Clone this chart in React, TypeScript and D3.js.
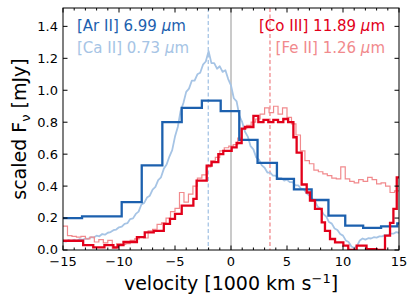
import * as d3 from 'd3';

// axis ranges
const X_DOMAIN: [number, number] = [-15, 15];
const Y_DOMAIN: [number, number] = [0, 1.515];
const X_MAJOR = [-15, -10, -5, 0, 5, 10, 15];
const Y_MAJOR = [0, 0.2, 0.4, 0.6, 0.8, 1.0, 1.2, 1.4];

// [Ar II] 6.99 um — coarse histogram (bin edges + heights)
const arEdges = [-15, -13.3, -11.5, -9.76, -7.97, -6.13, -4.4, -2.6, -0.92, 0.74, 2.37, 4.1, 5.62, 7.2, 8.7, 10.2, 11.8, 13.4, 14.85, 15];
const arValues = [0.2, 0.21, 0.21, 0.3, 0.53, 0.8, 0.89, 0.935, 0.87, 0.69, 0.545, 0.445, 0.38, 0.313, 0.215, 0.152, 0.138, 0.148, 0.167];

// [Co III] 11.89 um
const coEdges = [-15, -13.2, -12.3, -11.3, -10.5, -10.1, -9.6, -8.4, -7.7, -6.9, -6.0, -5.45, -5.0, -4.4, -3.36, -3.07, -2.17, -1.73, -1.13, -0.69,
  0.06, 0.5, 0.95, 1.25, 2.0, 2.44, 2.9, 3.33, 3.78, 4.2, 4.67, 5.1, 5.57, 5.86, 6.31, 6.76, 7.05, 7.5, 8.1, 8.39, 8.84, 9.29, 10.03, 10.47,
  11.22, 12.1, 13.0, 13.75, 14.2, 14.5, 14.8, 15];
const coValues = [0.058, 0.03, 0.016, 0.03, 0.016, 0.03, 0.05, 0.08, 0.11, 0.12, 0.163, 0.195, 0.226, 0.278, 0.32, 0.434, 0.528, 0.55, 0.6, 0.62,
  0.643, 0.67, 0.76, 0.77, 0.84, 0.8, 0.815, 0.8, 0.815, 0.8, 0.82, 0.8, 0.706, 0.61, 0.41, 0.36, 0.31, 0.257, 0.173, 0.12, 0.069, 0.048,
  0.027, 0.0, 0.027, 0.006, 0.0, 0.09, 0.17, 0.257, 0.455];

// [Fe II] 1.26 um — finer bins starting at -15
const FE_START = -15;
const FE_STEP = 0.4;
const feValues = [
  0.15, 0.09, 0.085, 0.08, 0.085, 0.07, 0.08, 0.05, 0.065, 0.045,
  0.06, 0.01, 0.04, 0.035, 0.04, 0.06, 0.07, 0.08, 0.075, 0.12,
  0.13, 0.16, 0.17, 0.2, 0.24, 0.26, 0.36, 0.3, 0.35, 0.4,
  0.45, 0.47, 0.52, 0.56, 0.58, 0.62, 0.64, 0.65, 0.66, 0.7,
  0.76, 0.78, 0.8, 0.82, 0.85, 0.89, 0.86, 0.9, 0.85, 0.89,
  0.83, 0.79, 0.72, 0.62, 0.56, 0.54, 0.5, 0.49, 0.476, 0.466,
  0.45, 0.445, 0.52, 0.445, 0.43, 0.42, 0.44, 0.43, 0.455, 0.44,
  0.414, 0.42, 0.4, 0.36, 0.37,
];

// [Ca II] 0.73 um — sampled spectrum
const CA_START = -15;
const CA_STEP = 0.25;
const caValues = [
  0.058, 0.052, 0.062, 0.056, // -15
  0.064, 0.058, 0.068, 0.064,
  0.072, 0.07, 0.08, 0.078,
  0.09, 0.086, 0.1, 0.096,
  0.108, 0.112, 0.124, 0.128, // -11
  0.142, 0.146, 0.164, 0.168,
  0.194, 0.198, 0.226, 0.24,
  0.285, 0.295, 0.328, 0.34,
  0.378, 0.395, 0.438, 0.455, // -7
  0.508, 0.535, 0.585, 0.625,
  0.71, 0.77, 0.87, 0.92,
  0.99, 1.01, 1.06, 1.06,
  1.1, 1.11, 1.16, 1.18, // -3
  1.245, 1.17, 1.17, 1.135,
  1.15, 1.115, 1.125, 1.07,
  1.03, 0.95, 0.93, 0.84, // 0
  0.8, 0.74, 0.71, 0.65,
  0.63, 0.58, 0.565, 0.53,
  0.515, 0.485, 0.485, 0.465,
  0.465, 0.45, 0.45, 0.435, // 4
  0.44, 0.425, 0.425, 0.405,
  0.405, 0.385, 0.38, 0.355,
  0.34, 0.32, 0.305, 0.27,
  0.26, 0.225, 0.21, 0.175, // 8
  0.165, 0.135, 0.125, 0.1,
  0.09, 0.06, 0.05, 0.022,
  0.012, 0.025, 0.06, 0.072,
  0.065, 0.074, 0.072, 0.08, // 12
  0.078, 0.085, 0.085, 0.093,
  0.092, 0.103, 0.102, 0.112,
  0.108,
];

const CA_CENTER = -2.03;
const FE_CENTER = 3.48;

const C = {
  ar: '#1c60ae',
  ca: '#a6c4e5',
  co: '#e2001a',
  fe: '#f18a8d',
  zero: '#bdbdbd',
};

const FONT = 'DejaVu Sans, sans-serif';

export default function App() {
  const width = 416;
  const height = 303;
  const left = 63, right = 399, top = 8, bottom = 250;

  const x = d3.scaleLinear().domain(X_DOMAIN).range([left, right]);
  const y = d3.scaleLinear().domain(Y_DOMAIN).range([bottom, top]);

  const stepLine = d3.line<[number, number]>()
    .x(d => x(d[0]))
    .y(d => y(d[1]))
    .curve(d3.curveStepAfter);

  const histPts = (edges: number[], vals: number[]): [number, number][] =>
    edges.map((e, i) => [e, vals[Math.min(i, vals.length - 1)]]);

  const feEdges = d3.range(feValues.length + 1).map(i => FE_START + i * FE_STEP);
  const caLine = d3.line<number>()
    .x((_, i) => x(CA_START + i * CA_STEP))
    .y(d => y(d));

  const minorX = d3.range(-15, 16, 1).filter(v => !X_MAJOR.includes(v));
  const fmtY = d3.format('.1f');
  const fmtX = (v: number) => (v < 0 ? '\u2212' + Math.abs(v) : String(v));

  return (
    <svg width={width} height={height} style={{ position: 'absolute', left: 0, top: 0, background: '#fff' }}>
      <defs>
        <clipPath id="plot">
          <rect x={left} y={top} width={right - left} height={bottom - top} />
        </clipPath>
      </defs>

      <g clipPath="url(#plot)">
        {/* reference lines */}
        <line x1={x(0)} x2={x(0)} y1={top} y2={bottom} stroke={C.zero} strokeWidth={1.6} />
        <line x1={x(CA_CENTER)} x2={x(CA_CENTER)} y1={top} y2={bottom} stroke={C.ca} strokeWidth={1.3} strokeDasharray="4,2.5" />
        <line x1={x(FE_CENTER)} x2={x(FE_CENTER)} y1={top} y2={bottom} stroke={C.fe} strokeWidth={1.3} strokeDasharray="4,2.5" />

        <path d={caLine(caValues) ?? ''} fill="none" stroke={C.ca} strokeWidth={1.8} strokeLinejoin="round" />
        <path d={stepLine(histPts(feEdges, feValues)) ?? ''} fill="none" stroke={C.fe} strokeWidth={1.2} />
        <path d={stepLine(histPts(arEdges, arValues)) ?? ''} fill="none" stroke={C.ar} strokeWidth={2.3} />
        <path d={stepLine(histPts(coEdges, coValues)) ?? ''} fill="none" stroke={C.co} strokeWidth={2.3} />
      </g>

      {/* frame */}
      <rect x={left} y={top} width={right - left} height={bottom - top} fill="none" stroke="#000" strokeWidth={1} />

      {/* x ticks (inward, top and bottom) */}
      {X_MAJOR.map(v => (
        <g key={'xM' + v}>
          <line x1={x(v)} x2={x(v)} y1={bottom} y2={bottom - 4.5} stroke="#000" />
          <line x1={x(v)} x2={x(v)} y1={top} y2={top + 4.5} stroke="#000" />
          <text x={x(v)} y={266} textAnchor="middle" fontFamily={FONT} fontSize={13}>{fmtX(v)}</text>
        </g>
      ))}
      {minorX.map(v => (
        <g key={'xm' + v}>
          <line x1={x(v)} x2={x(v)} y1={bottom} y2={bottom - 2.5} stroke="#000" />
          <line x1={x(v)} x2={x(v)} y1={top} y2={top + 2.5} stroke="#000" />
        </g>
      ))}

      {/* y ticks */}
      {Y_MAJOR.map(v => (
        <g key={'y' + v}>
          <line x1={left} x2={left + 4.5} y1={y(v)} y2={y(v)} stroke="#000" />
          <line x1={right} x2={right - 4.5} y1={y(v)} y2={y(v)} stroke="#000" />
          <text x={58} y={y(v)} dy="0.34em" textAnchor="end" fontFamily={FONT} fontSize={13}>{fmtY(v)}</text>
        </g>
      ))}

      {/* axis labels */}
      <text x={231} y={290} textAnchor="middle" fontFamily={FONT} fontSize={19}>
        velocity [1000 km s<tspan dy={-7} fontSize={13}>{'\u22121'}</tspan><tspan dy={7}>]</tspan>
      </text>
      <text transform="translate(26,129) rotate(-90)" textAnchor="middle" fontFamily={FONT} fontSize={19}>
        scaled F<tspan dy={4} fontSize={13}>ν</tspan><tspan dy={-4}> [mJy]</tspan>
      </text>

      {/* line labels */}
      <text x={77} y={31} fontFamily={FONT} fontSize={15} fill={C.ar}>
        [Ar II] 6.99 <tspan fontStyle="italic">μ</tspan>m
      </text>
      <text x={77} y={52.5} fontFamily={FONT} fontSize={15} fill={C.ca}>
        [Ca II] 0.73 <tspan fontStyle="italic">μ</tspan>m
      </text>
      <text x={385} y={31} textAnchor="end" fontFamily={FONT} fontSize={15} fill={C.co}>
        [Co III] 11.89 <tspan fontStyle="italic">μ</tspan>m
      </text>
      <text x={385} y={52.5} textAnchor="end" fontFamily={FONT} fontSize={15} fill={C.fe}>
        [Fe II] 1.26 <tspan fontStyle="italic">μ</tspan>m
      </text>
    </svg>
  );
}
